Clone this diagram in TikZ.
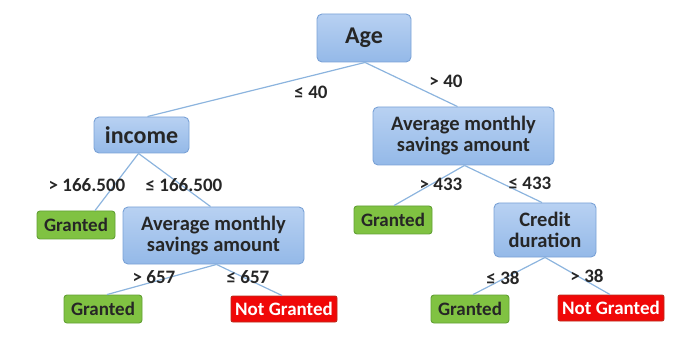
\documentclass[tikz,border=0pt]{standalone}
\usepackage{fontspec}
\setmainfont{Carlito}
\definecolor{boxtop}{RGB}{184,209,242}
\definecolor{boxbot}{RGB}{148,185,232}
\definecolor{boxline}{RGB}{122,162,214}
\definecolor{gfill}{RGB}{128,194,66}
\definecolor{gline}{RGB}{98,160,52}
\definecolor{rfill}{RGB}{240,8,8}
\definecolor{rline}{RGB}{185,45,30}
\definecolor{edgec}{RGB}{140,180,222}
\tikzset{
  base/.style={rounded corners=5pt, inner sep=0pt, align=center, font=\bfseries},
  decision/.style={base, draw=boxline, line width=0.9pt, top color=boxtop, bottom color=boxbot, text=black!85},
  granted/.style={base, draw=gline, line width=0.9pt, fill=gfill, text=black!85, minimum width=78pt, minimum height=28pt, font=\fontsize{19}{20}\selectfont\bfseries, rounded corners=3pt},
  notgranted/.style={base, draw=rline, line width=0.9pt, fill=rfill, text=white, minimum width=106pt, minimum height=26pt, font=\fontsize{19}{20}\selectfont\bfseries, rounded corners=2pt},
  big/.style={font=\fontsize{24}{26}\selectfont\bfseries},
  mid/.style={font=\fontsize{20.5}{22}\selectfont\bfseries},
  lbl/.style={font=\fontsize{19}{20}\selectfont\bfseries, text=black!85, inner sep=0pt},
  edge/.style={draw=edgec, line width=1.2pt}
}
\begin{document}
\begin{tikzpicture}[x=1pt,y=-1pt]
\useasboundingbox (0,0) rectangle (688,339);
% nodes
\node[decision,big,minimum width=94pt,minimum height=48pt] (age) at (364,38) {Age};
\node[decision,big,minimum width=95pt,minimum height=36pt] (inc) at (141.5,135) {income};
\node[decision,mid,minimum width=181pt,minimum height=58pt] (ravg) at (463.5,136) {Average monthly\\[-1pt]savings amount};
\node[granted] (g1) at (76,225) {Granted};
\node[decision,mid,minimum width=181pt,minimum height=57pt] (lavg) at (213.5,235.5) {Average monthly\\[-1pt]savings amount};
\node[granted] (g2) at (393,220) {Granted};
\node[decision,mid,minimum width=102pt,minimum height=54pt] (cred) at (545,230) {Credit\\[-1pt]duration};
\node[granted] (g3) at (103,309) {Granted};
\node[notgranted] (n1) at (284,309) {Not Granted};
\node[granted] (g4) at (470,309) {Granted};
\node[notgranted] (n2) at (611,308) {Not Granted};
% edges
\begin{scope}[on background layer/.style={}]
\draw[edge] ([xshift=1pt]age.south) -- ([xshift=6pt]inc.north);
\draw[edge] ([xshift=1pt]age.south) -- ([xshift=-6pt]ravg.north);
\draw[edge] ([xshift=-3pt]inc.south) -- ([xshift=19pt]g1.north);
\draw[edge] ([xshift=-3pt]inc.south) -- ([xshift=-3pt]lavg.north);
\draw[edge] ([xshift=1pt]ravg.south) -- ([xshift=1pt]g2.north);
\draw[edge] ([xshift=1pt]ravg.south) -- ([xshift=-3pt]cred.north);
\draw[edge] ([xshift=3pt]lavg.south) -- ([xshift=4pt]g3.north);
\draw[edge] ([xshift=3pt]lavg.south) -- ([xshift=-2pt]n1.north);
\draw[edge] (cred.south) -- ([xshift=3pt]g4.north);
\draw[edge] (cred.south) -- ([xshift=-1pt]n2.north);
\end{scope}
% labels
\node[lbl] (l1) at (311,92) {≤ 40};
\node[lbl] (l2) at (446,81) {> 40};
\node[lbl] (l3) at (87,185) {> 166.500};
\node[lbl] (l4) at (184,185) {≤ 166.500};
\node[lbl] (l5) at (441,184) {> 433};
\node[lbl] (l6) at (530,183) {≤ 433};
\node[lbl] (l7) at (154,277) {> 657};
\node[lbl] (l8) at (248,277) {≤ 657};
\node[lbl] (l9) at (503,278) {≤ 38};
\node[lbl] (l10) at (587,276) {> 38};
\end{tikzpicture}
\end{document}
